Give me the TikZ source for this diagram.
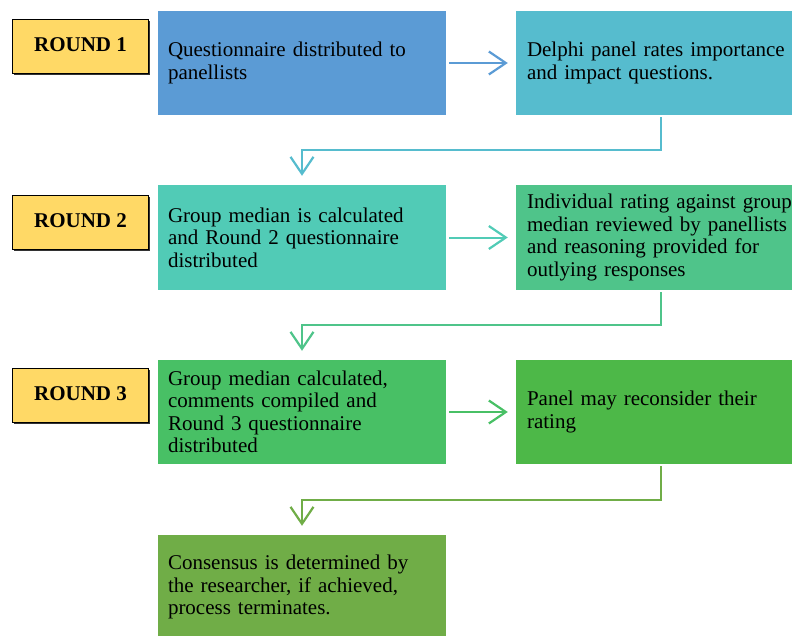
\documentclass[tikz,border=0pt]{standalone}
\usepackage{fontspec}
\setmainfont{Liberation Serif}
\usetikzlibrary{arrows.meta,shadows}

\definecolor{gold}{HTML}{FFD966}
\definecolor{cblue}{HTML}{5B9BD5}
\definecolor{cteal}{HTML}{56BCCE}
\definecolor{cturq}{HTML}{51CBB6}
\definecolor{cmint}{HTML}{4FC48A}
\definecolor{cgreen}{HTML}{48C065}
\definecolor{cgrass}{HTML}{4DB848}
\definecolor{colive}{HTML}{70AD47}

\tikzset{
  roundbox/.style={draw=black, line width=1.4pt, fill=gold,
    minimum width=136pt, minimum height=54pt, inner sep=0pt,
    font=\fontsize{21}{23}\selectfont\bfseries,
    drop shadow={shadow xshift=1pt, shadow yshift=-1.5pt, opacity=1, fill=black!80}},
  leftbox/.style={fill=#1, minimum width=288pt, minimum height=104pt,
    inner xsep=10pt, inner ysep=0pt, text width=268pt, align=left,
    font=\fontsize{21}{22.5}\selectfont},
  rightbox/.style={fill=#1, minimum width=287pt, minimum height=104pt,
    inner xsep=11pt, inner ysep=0pt, text width=265pt, align=left,
    font=\fontsize{21}{22.5}\selectfont},
  flow/.style={draw=#1, line width=2pt,
    -{Straight Barb[length=17pt, width=23pt, line width=2.2pt]}},
}
\newcommand{\roundlabel}[1]{\raisebox{3pt}{#1}}

\begin{document}
\begin{tikzpicture}[x=1pt, y=-1pt]
\useasboundingbox (0,0) rectangle (792,635);

% round labels
\node[roundbox] (r1) at (80.5,46.5) {\roundlabel{ROUND 1}};
\node[roundbox] (r2) at (80.5,222.5) {\roundlabel{ROUND 2}};
\node[roundbox] (r3) at (80.5,395.5) {\roundlabel{ROUND 3}};

% row 1
\node[leftbox=cblue] (a1) at (302,63) {Questionnaire distributed to\\panellists};
\node[rightbox=cteal] (b1) at (659.5,63) {Delphi panel rates importance\\and impact questions.};

% row 2
\node[leftbox=cturq, minimum height=105pt] (a2) at (302,237.5) {Group median is calculated\\and Round 2 questionnaire\\distributed};
\node[rightbox=cmint, minimum height=105pt] (b2) at (659.5,237.5) {Individual rating against group\\median reviewed by panellists\\and reasoning provided for\\outlying responses};

% row 3
\node[leftbox=cgreen] (a3) at (302,412) {Group median calculated,\\comments compiled and\\Round 3 questionnaire\\distributed};
\node[rightbox=cgrass] (b3) at (659.5,412) {Panel may reconsider their\\rating};

% outcome
\node[leftbox=colive] (d) at (302,587) {Consensus is determined by\\the researcher, if achieved,\\process terminates.};

% bends of the return connectors
\coordinate (k1) at (302,150);
\coordinate (k2) at (302,325);
\coordinate (k3) at (302,500);

% horizontal steps
\draw[flow=cblue, shorten <=3pt, shorten >=8pt] (a1.east) -- (b1.west);
\draw[flow=cturq, shorten <=3pt, shorten >=8pt] (a2.east) -- (b2.west);
\draw[flow=cgreen, shorten <=3pt, shorten >=8pt] (a3.east) -- (b3.west);

% return connectors to the next round
\draw[flow=cteal, shorten <=2pt, shorten >=9pt] ([xshift=1.5pt]b1.south) |- (k1) -- (a2.north);
\draw[flow=cmint, shorten <=2pt, shorten >=9pt] ([xshift=1.5pt]b2.south) |- (k2) -- (a3.north);
\draw[flow=colive, shorten <=2pt, shorten >=9pt] ([xshift=1.5pt]b3.south) |- (k3) -- (d.north);
\end{tikzpicture}
\end{document}
